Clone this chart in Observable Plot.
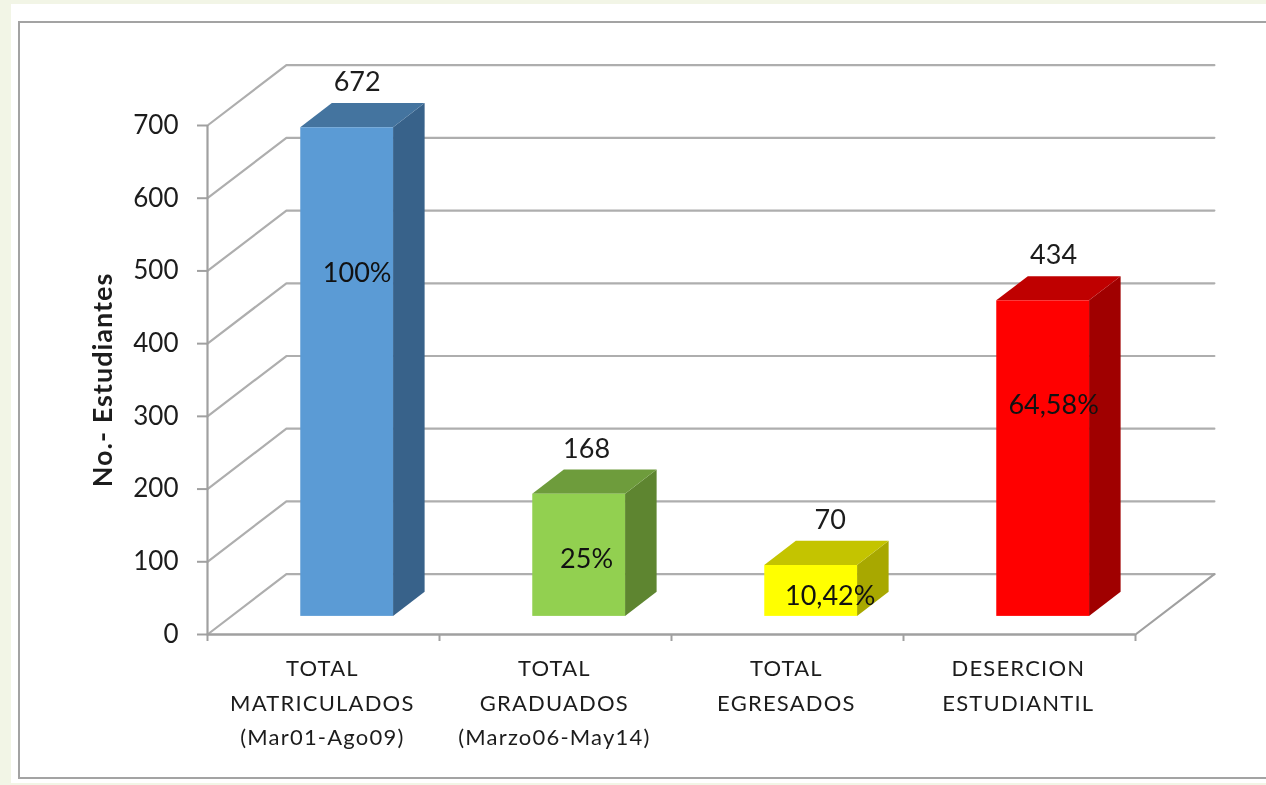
<!DOCTYPE html>
<html lang="es">
<head>
<meta charset="utf-8">
<script src="https://cdn.jsdelivr.net/npm/d3@7"></script>
<script src="https://cdn.jsdelivr.net/npm/@observablehq/plot@0.6"></script>
<style>
html,body{margin:0;padding:0;width:1266px;height:785px;overflow:hidden;background:#f2f5e6;}
#panel{position:absolute;left:11px;top:4px;width:1255px;height:779px;background:#fff;}
#frame{position:absolute;left:18px;top:21px;width:1260px;height:758px;border:2px solid #a3a3a3;box-sizing:border-box;}
#chart{position:absolute;left:0;top:0;}
#chart svg{filter:blur(.6px);}
</style>
</head>
<body>
<div id="panel"></div>
<div id="frame"></div>
<div id="chart"></div>
<script>
const categories = [
  "TOTAL\nMATRICULADOS\n(Mar01-Ago09)",
  "TOTAL\nGRADUADOS\n(Marzo06-May14)",
  "TOTAL\nEGRESADOS",
  "DESERCION\nESTUDIANTIL"
];
const values = [672, 168, 70, 434];
const percents = ["100%", "25%", "10,42%", "64,58%"];
const yTicks = [0, 100, 200, 300, 400, 500, 600, 700];
const xTicks = [0, 1, 2, 3, 4];
const yTitle = "No.- Estudiantes";

// Percent labels sit at these heights on the value axis, as placed in the original
const percentLabelAt = [497, 103, 52, 315];
const labelShift = [0.043, 0.032, 0.082, 0.045];

const frontColors = ["#5b9bd5", "#92d050", "#ffff00", "#ff0000"];
const topColors = ["#44749f", "#6e9c3c", "#c4c400", "#bf0000"];
const sideColors = ["#38628a", "#5e8530", "#a8a800", "#a00000"];

// Oblique depth of the 3-D box, in axis units
const depthX = 0.34, depthY = 83;
const barWidth = 0.4, barDepth = 0.4, barFront = 0.3;

const bars = values.map((v, i) => {
  const x1 = i + 0.5 - barWidth / 2 + barFront * depthX, x2 = x1 + barWidth;
  const y1 = barFront * depthY, y2 = y1 + v;
  return {i, v, x1, x2, y1, y2, ddx: barDepth * depthX, ddy: barDepth * depthY};
});

const gridRows = yTicks.flatMap(v => [
  {v, x: 0, y: v},
  {v, x: depthX, y: v + depthY},
  {v, x: 4 + depthX, y: v + depthY}
]);
const floorRows = [{x: 0, y: 0}, {x: 4, y: 0}, {x: 4 + depthX, y: depthY}];

const sideRows = bars.flatMap(b => [
  {b: b.i, x: b.x2, y1: b.y1, y2: b.y2},
  {b: b.i, x: b.x2 + b.ddx, y1: b.y1 + b.ddy, y2: b.y2 + b.ddy}
]);
const topRows = bars.flatMap(b => [
  {b: b.i, x: b.x1, y1: b.y2, y2: b.y2},
  {b: b.i, x: b.x1 + b.ddx, y1: b.y2, y2: b.y2 + b.ddy},
  {b: b.i, x: b.x2, y1: b.y2, y2: b.y2 + b.ddy},
  {b: b.i, x: b.x2 + b.ddx, y1: b.y2 + b.ddy, y2: b.y2 + b.ddy}
]);

const gridColor = "#aeaeae", axisColor = "#a0a0a0", ink = "#1c1c1c";
const spaced = (spacing) => (index, scales, vals, dims, ctx, next) => {
  const g = next(index, scales, vals, dims, ctx);
  g.style.letterSpacing = spacing;
  return g;
};

const plot = Plot.plot({
  width: 1266, height: 785,
  marginLeft: 207, marginRight: 131, marginTop: 125, marginBottom: 151,
  style: {fontFamily: "Lato, sans-serif", background: "transparent"},
  x: {domain: [0, 4]},
  y: {domain: [0, 700]},
  color: {type: "identity"},
  marks: [
    Plot.line(gridRows, {x: "x", y: "y", z: "v", stroke: gridColor, strokeWidth: 2.2}),
    Plot.line(floorRows, {x: "x", y: "y", stroke: axisColor, strokeWidth: 2.2}),
    Plot.ruleX([0], {y1: 0, y2: 700, stroke: axisColor, strokeWidth: 2.2}),
    Plot.axisY({ticks: yTicks, tickSize: 10, tickPadding: 19, fontSize: 26, stroke: axisColor, strokeWidth: 2, fill: ink, label: null}),
    Plot.axisX({ticks: xTicks, tickSize: 7, tickFormat: () => "", stroke: axisColor, strokeWidth: 2, label: null}),
    Plot.areaY(sideRows, {x: "x", y1: "y1", y2: "y2", z: "b", fill: d => sideColors[d.b]}),
    Plot.areaY(topRows, {x: "x", y1: "y1", y2: "y2", z: "b", fill: d => topColors[d.b]}),
    Plot.rect(bars, {x1: "x1", x2: "x2", y1: "y1", y2: "y2", fill: d => frontColors[d.i]}),
    Plot.text(bars, {
      x: d => (d.x1 + d.x2) / 2 + labelShift[d.i], y: "y2", text: d => String(d.v),
      dy: -45, fontSize: 27, fill: ink
    }),
    Plot.text(bars, {
      x: d => (d.x1 + d.x2) / 2 + labelShift[d.i], y: d => percentLabelAt[d.i], text: d => percents[d.i],
      fontSize: 27, fill: "#111"
    }),
    Plot.text(categories, {
      x: (d, i) => i + 0.5 - 0.005, y: () => 0, text: d => d,
      lineAnchor: "top", dy: 17, lineHeight: 1.57, fontSize: 22, fill: ink,
      render: spaced("1.2px")
    }),
    Plot.text([yTitle], {
      frameAnchor: "left", textAnchor: "middle", dx: -104, rotate: -90, text: d => d,
      fontSize: 27, fontWeight: "bold", fill: ink, render: spaced("1px")
    }),
    Plot.ruleY([0], {x1: 0, x2: 4, stroke: axisColor, strokeWidth: 2.2})
  ]
});
document.getElementById("chart").appendChild(plot);
</script>
</body>
</html>
